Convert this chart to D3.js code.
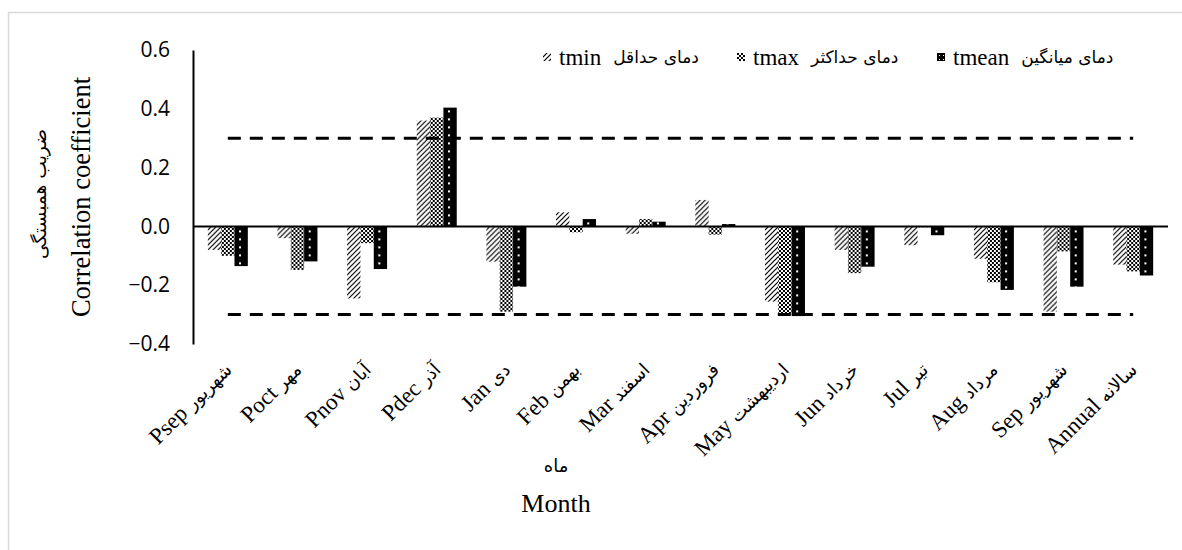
<!DOCTYPE html>
<html><head><meta charset="utf-8">
<script src="https://cdn.jsdelivr.net/npm/d3@7"></script>
<style>body{margin:0;background:#fff}svg{display:block}</style>
</head><body><svg id="c" width="1182" height="550"></svg>
<script>
const categories = ["Psep شهریور","Poct مهر","Pnov آبان","Pdec آذر","Jan دی","Feb بهمن","Mar اسفند","Apr فروردین","May اردیبهشت","Jun خرداد","Jul تیر","Aug مرداد","Sep شهریور","Annual سالانه"];
const seriesNames = ["tmin","tmax","tmean"];
const legendFa = ["دمای حداقل","دمای حداکثر","دمای میانگین"];
const tmin  = [-0.08,-0.04,-0.245,0.36,-0.12,0.048,-0.025,0.09,-0.256,-0.08,-0.064,-0.11,-0.29,-0.13];
const tmax  = [-0.10,-0.148,-0.057,0.37,-0.29,-0.02,0.025,-0.028,-0.296,-0.159,-0.003,-0.19,-0.085,-0.153];
const tmean = [-0.135,-0.119,-0.145,0.404,-0.205,0.025,0.016,0.008,-0.305,-0.137,-0.03,-0.216,-0.205,-0.167];
const yTicks = [-0.4,-0.2,0.0,0.2,0.4,0.6];
const thresholds = [0.3,-0.3];
const yTitleEn = "Correlation coefficient", yTitleFa = "ضریب همبستگی";
const xTitleEn = "Month", xTitleFa = "ماه";

const svg = d3.select("#c");
const L = 193, R = 1168, T = 50, B = 344;
const x0 = d3.scaleBand().domain(categories).range([L,R]).paddingInner(0.426).paddingOuter(0.213);
const x1 = d3.scaleBand().domain(seriesNames).range([0,x0.bandwidth()]);
const y = d3.scaleLinear().domain([-0.4,0.6]).range([B,T]);

svg.append("path").attr("d","M8.5,560 V12.5 H1190").attr("fill","none").attr("stroke","#d9d9d9").attr("stroke-width",1.5);

const defs = svg.append("defs");
const p1 = defs.append("pattern").attr("id","p_tmin").attr("patternUnits","userSpaceOnUse").attr("width",5).attr("height",5);
p1.append("rect").attr("width",5).attr("height",5).attr("fill","#fff");
p1.append("path").attr("d","M-1,6 L6,-1 M-1,1 L1,-1 M4,6 L6,4").attr("stroke","#000").attr("stroke-width",1.2);
const p2 = defs.append("pattern").attr("id","p_tmax").attr("patternUnits","userSpaceOnUse").attr("width",4).attr("height",4);
p2.append("rect").attr("width",4).attr("height",4).attr("fill","#fff");
p2.append("rect").attr("width",2).attr("height",2).attr("fill","#000");
p2.append("rect").attr("x",2).attr("y",2).attr("width",2).attr("height",2).attr("fill","#000");
p2.append("rect").attr("x",1).attr("y",1).attr("width",1).attr("height",1).attr("fill","#000");
const step = x0.step();
const dotX = x0(categories[0]) + x1("tmean") + x1.bandwidth()/2 - 1;
const p3 = defs.append("pattern").attr("id","p_tmean").attr("patternUnits","userSpaceOnUse")
  .attr("x", dotX).attr("y", y(0)).attr("width",step).attr("height",8);
p3.append("rect").attr("width",step).attr("height",8).attr("fill","#000");
p3.append("rect").attr("x",0).attr("y",4).attr("width",2).attr("height",2).attr("fill","#fff");
const p3l = defs.append("pattern").attr("id","p_tmean_l").attr("patternUnits","userSpaceOnUse").attr("width",4).attr("height",4);
p3l.append("rect").attr("width",4).attr("height",4).attr("fill","#000");
p3l.append("rect").attr("x",2).attr("y",2).attr("width",1).attr("height",1).attr("fill","#fff");
const fills = {tmin:"url(#p_tmin)", tmax:"url(#p_tmax)", tmean:"url(#p_tmean)"};
const legendFills = {tmin:"url(#p_tmin)", tmax:"url(#p_tmax)", tmean:"url(#p_tmean_l)"};

const data = categories.map((c,i)=>({cat:c, vals:[{k:"tmin",v:tmin[i]},{k:"tmax",v:tmax[i]},{k:"tmean",v:tmean[i]}]}));
svg.append("g").selectAll("g.grp").data(data).join("g").attr("class","grp")
 .attr("transform",d=>`translate(${x0(d.cat)},0)`)
 .selectAll("rect").data(d=>d.vals).join("rect")
 .attr("x",d=>x1(d.k)).attr("width",x1.bandwidth())
 .attr("y",d=>y(Math.max(0,d.v))).attr("height",d=>Math.abs(y(d.v)-y(0)))
 .attr("fill",d=>fills[d.k]);

const c0 = x0(categories[0])+x0.bandwidth()/2, cN = x0(categories[categories.length-1])+x0.bandwidth()/2;
svg.selectAll("line.th").data(thresholds).join("line").attr("class","th")
 .attr("x1",c0).attr("x2",cN).attr("y1",d=>y(d)).attr("y2",d=>y(d))
 .attr("stroke","#000").attr("stroke-width",3).attr("stroke-dasharray","13,9");

svg.append("line").attr("x1",L).attr("x2",R).attr("y1",y(0)).attr("y2",y(0)).attr("stroke","#000").attr("stroke-width",2);
const yAxis = svg.append("g").attr("transform",`translate(${L},0)`)
 .call(d3.axisLeft(y).tickValues(yTicks).tickFormat(d3.format(".1f")).tickSize(0).tickPadding(23));
yAxis.select(".domain").attr("stroke","#000").attr("stroke-width",2);
yAxis.selectAll("text").attr("font-family","'Open Sans', sans-serif").attr("font-size",21).attr("fill","#000");

const xl = svg.selectAll("text.xl").data(categories).join("text").attr("class","xl")
 .attr("transform",d=>`translate(${x0(d)+x0.bandwidth()/2+5},371) rotate(-45)`)
 .attr("text-anchor","end").attr("font-family","'Liberation Serif', serif").attr("font-size",23);
xl.append("tspan").text(d=>d.split(" ")[0]+"   ");
xl.append("tspan").attr("font-family","'DejaVu Sans', sans-serif").attr("font-size",18).text(d=>d.split(" ").slice(1).join(" "));

svg.append("text").attr("transform","translate(90,197) rotate(-90)").attr("text-anchor","middle")
 .attr("font-family","'Liberation Serif', serif").attr("font-size",26.5).text(yTitleEn);
svg.append("text").attr("transform","translate(46,194) rotate(-90)").attr("text-anchor","middle")
 .attr("font-family","'DejaVu Sans', sans-serif").attr("font-size",18)
 .attr("textLength",130).attr("lengthAdjust","spacingAndGlyphs").text(yTitleFa);
svg.append("text").attr("x",556).attr("y",472).attr("text-anchor","middle")
 .attr("font-family","'DejaVu Sans', sans-serif").attr("font-size",18).text(xTitleFa);
svg.append("text").attr("x",556).attr("y",512).attr("text-anchor","middle")
 .attr("font-family","'Liberation Serif', serif").attr("font-size",26).text(xTitleEn);

const legX = [543, 737, 937];
const lg = svg.selectAll("g.leg").data(seriesNames).join("g").attr("class","leg")
 .attr("transform",(d,i)=>`translate(${legX[i]},57)`);
lg.append("rect").attr("x",0).attr("y",-4).attr("width",8).attr("height",8).attr("fill",d=>legendFills[d]);
lg.each(function(d,i){
  const g = d3.select(this);
  const e = g.append("text").attr("x",16).attr("y",0).attr("dy","0.33em")
    .attr("font-family","'Liberation Serif', serif").attr("font-size",23).text(d);
  const w = e.node().getComputedTextLength();
  g.append("text").attr("x",16+w+12).attr("y",0).attr("dy","0.33em")
    .attr("font-family","'DejaVu Sans', sans-serif").attr("font-size",17).text(legendFa[i]);
});
</script></body></html>
